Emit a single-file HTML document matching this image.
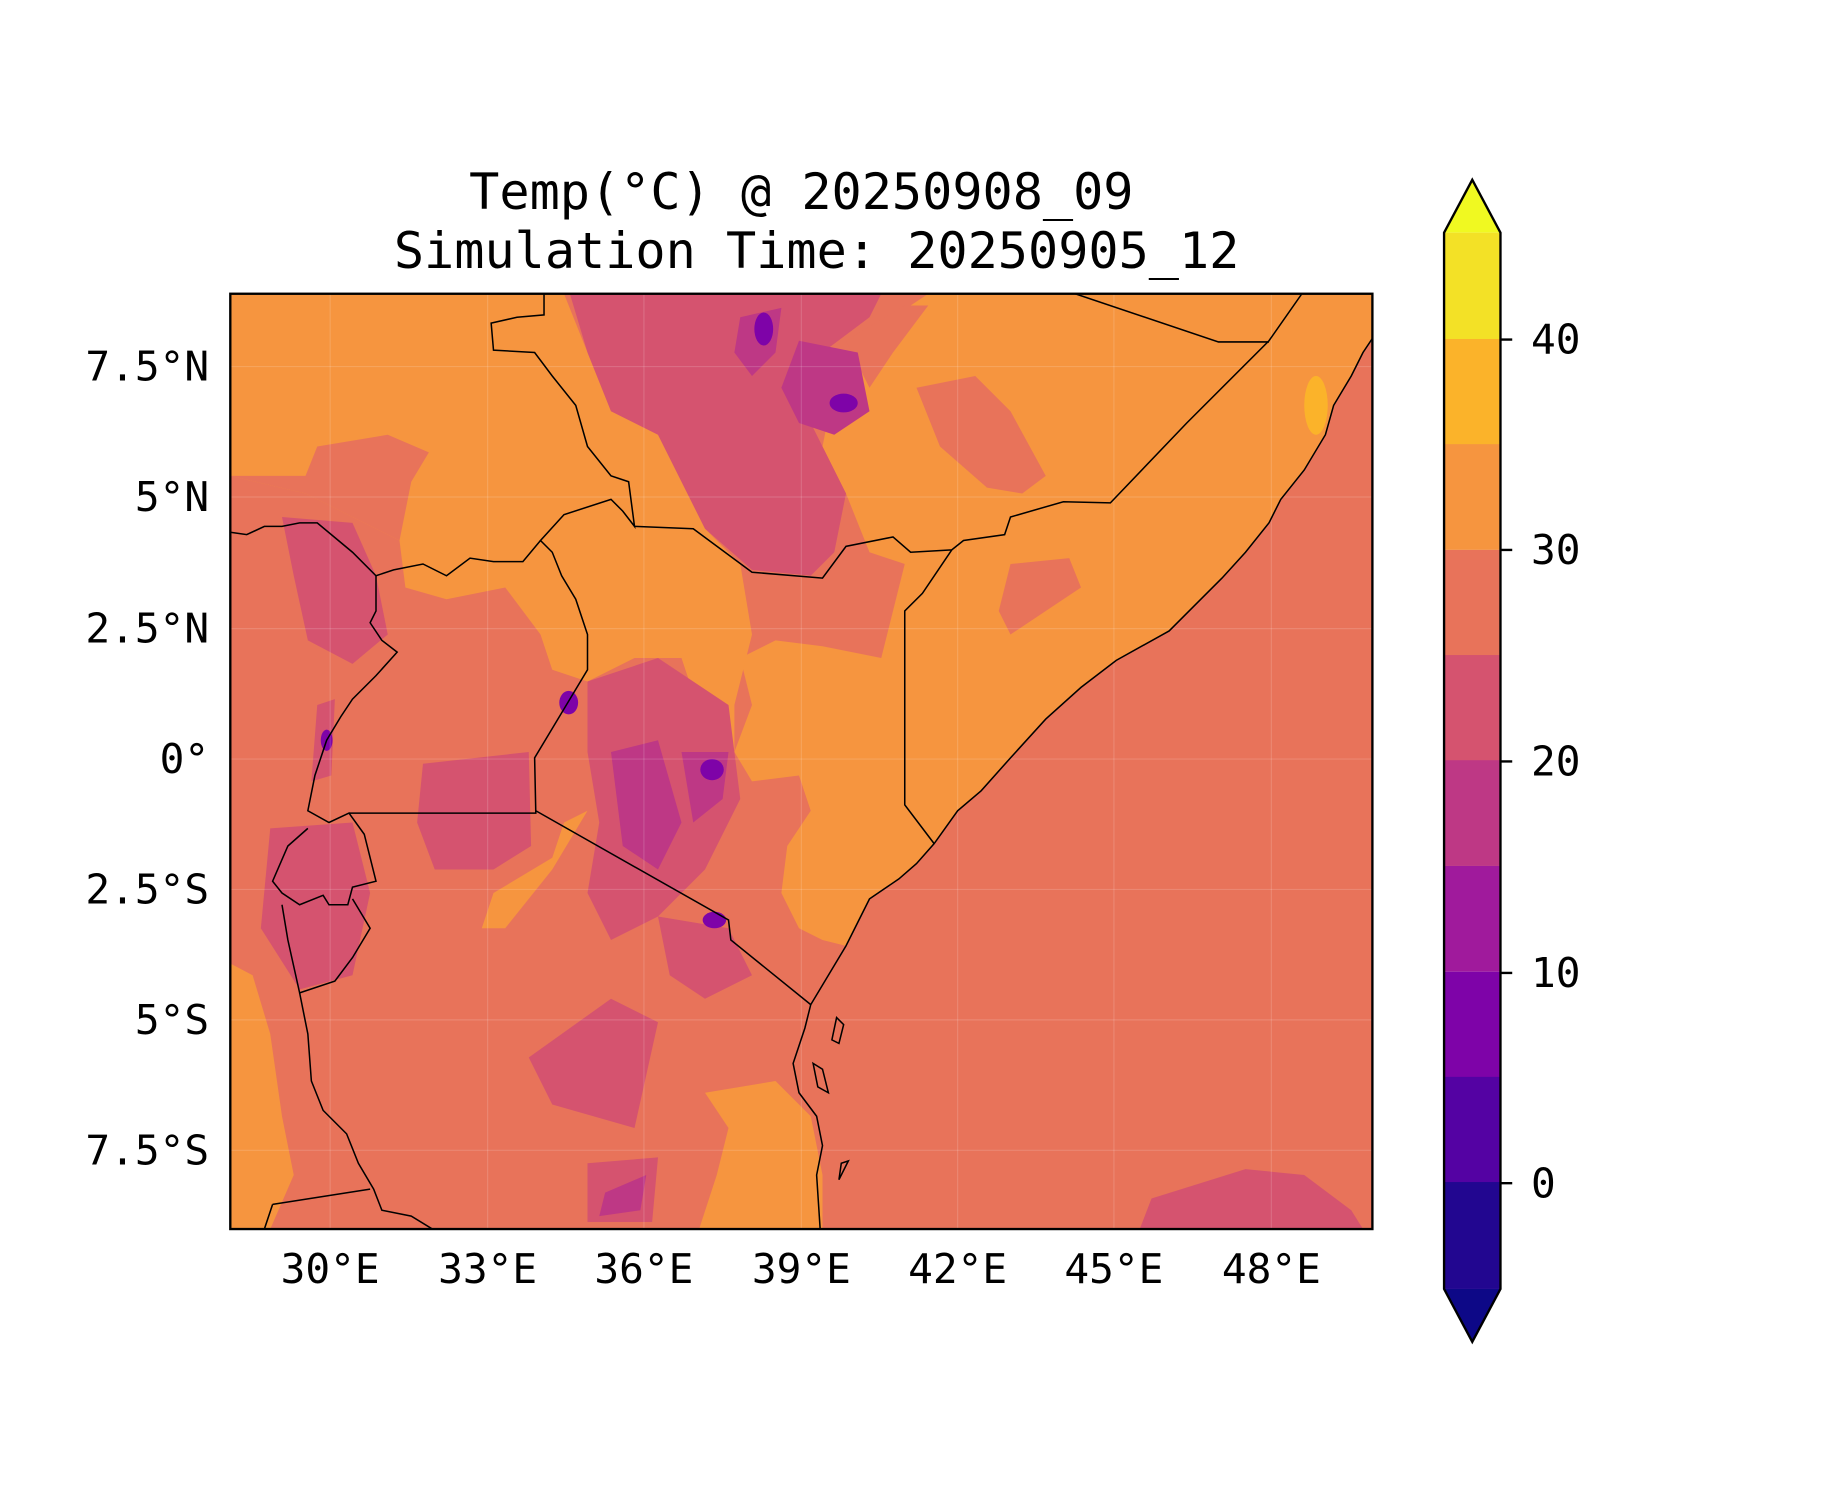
<!DOCTYPE html>
<html><head><meta charset="utf-8"><style>body{margin:0;background:#fff}svg{display:block}</style></head><body>
<svg width="1833" height="1500" viewBox="0 0 1560 1276.6" xmlns="http://www.w3.org/2000/svg" font-family="DejaVu Sans Mono, Liberation Mono, monospace">
<rect width="1560" height="1277" fill="#fff"/>
<text x="682" y="178" font-size="42.7" text-anchor="middle">Temp(°C) @ 20250908_09</text>
<text x="695" y="228" font-size="42.7" text-anchor="middle">Simulation Time: 20250905_12</text>
<defs><clipPath id="c"><rect x="196" y="250" width="972" height="796"/></clipPath></defs>
<g clip-path="url(#c)">
<rect x="196" y="250" width="972" height="796" fill="#e8735a"/>
<path fill="#f6953f" d="M915,250 L1168,250 L1168,288 L1160,300 L1150,320 L1135,345 L1128,370 L1110,400 L1090,425 L1080,445 L1060,470 L1040,492 L1020,512 L995,537 L950,562 L920,585 L890,612 L860,645 L835,673 L815,690 L795,718 L780,735 L765,748 L740,765 L730,785 L720,805 L700,800 L680,790 L665,760 L670,720 L690,690 L680,660 L640,665 L625,640 L640,600 L630,560 L660,545 L700,550 L750,560 L760,520 L770,480 L740,470 L720,420 L700,380 L710,330 L760,270 L790,250 Z"/>
<path fill="#f6953f" d="M196,250 L480,250 L500,300 L520,350 L560,370 L580,410 L600,450 L630,480 L640,540 L625,600 L625,640 L600,620 L580,560 L540,560 L500,580 L470,570 L460,540 L430,500 L380,510 L345,500 L340,460 L300,440 L260,420 L196,405 Z"/>
<path fill="#f6953f" d="M196,820 L215,830 L230,880 L240,950 L250,1000 L230,1046 L196,1046 Z"/>
<path fill="#f6953f" d="M600,930 L660,920 L690,950 L700,1000 L700,1046 L595,1046 L610,1000 L620,960 Z"/>
<path fill="#f6953f" d="M420,760 L470,730 L480,700 L500,690 L470,740 L430,790 L410,790 Z"/>
<path fill="#e8735a" d="M780,330 L830,320 L860,350 L890,405 L870,420 L840,415 L800,380 Z"/>
<path fill="#e8735a" d="M860,480 L910,475 L920,500 L890,520 L860,540 L850,520 Z"/>
<path fill="#e8735a" d="M196,405 L260,405 L270,380 L330,370 L365,385 L350,410 L340,460 L300,440 L260,420 Z"/>
<path fill="#e8735a" d="M720,290 L770,260 L790,260 L760,300 L740,330 Z"/>
<path fill="#d5536f" d="M485,250 L750,250 L740,270 L700,300 L690,360 L720,420 L710,470 L690,490 L640,485 L600,450 L580,410 L560,370 L520,350 L500,300 Z"/>
<path fill="#d5536f" d="M500,580 L560,560 L620,600 L630,680 L600,740 L560,780 L520,800 L500,760 L510,700 L500,640 Z"/>
<path fill="#d5536f" d="M360,650 L450,640 L452,720 L420,740 L370,740 L355,700 Z"/>
<path fill="#d5536f" d="M240,440 L300,445 L320,490 L330,540 L300,565 L262,545 L250,490 Z"/>
<path fill="#d5536f" d="M230,705 L300,700 L315,760 L300,830 L255,842 L222,790 Z"/>
<path fill="#d5536f" d="M450,900 L520,850 L560,870 L540,960 L470,940 Z"/>
<path fill="#d5536f" d="M500,990 L560,985 L555,1040 L500,1040 Z"/>
<path fill="#d5536f" d="M560,780 L620,790 L640,830 L600,850 L570,830 Z"/>
<path fill="#d5536f" d="M970,1046 L980,1020 L1060,995 L1110,1000 L1150,1030 L1160,1046 Z"/>
<path fill="#d5536f" d="M270,600 L285,595 L282,660 L265,665 Z"/>
<path fill="#be3885" d="M630,270 L665,262 L660,300 L640,320 L625,300 Z"/>
<path fill="#be3885" d="M680,290 L730,300 L740,350 L710,370 L680,360 L665,330 Z"/>
<path fill="#be3885" d="M520,640 L560,630 L580,700 L560,740 L530,720 Z"/>
<path fill="#be3885" d="M580,640 L620,640 L615,680 L590,700 Z"/>
<path fill="#be3885" d="M515,1015 L550,1000 L545,1030 L510,1035 Z"/>
<ellipse cx="718" cy="343" rx="12" ry="8" fill="#7e03a8"/>
<ellipse cx="606" cy="655" rx="10" ry="9" fill="#7e03a8"/>
<ellipse cx="484" cy="598" rx="8" ry="10" fill="#7e03a8"/>
<ellipse cx="608" cy="783" rx="10" ry="7" fill="#7e03a8"/>
<ellipse cx="650" cy="280" rx="8" ry="14" fill="#7e03a8"/>
<ellipse cx="278" cy="630" rx="5" ry="9" fill="#7e03a8"/>
<ellipse cx="1120" cy="345" rx="10" ry="25" fill="#fbb32a"/>
<g stroke="#fff" stroke-opacity="0.15" stroke-width="1">
<path d="M281,250V1046M415,250V1046M548,250V1046M682,250V1046M815,250V1046M948,250V1046M1082,250V1046"/>
<path d="M196,312H1168M196,423H1168M196,535H1168M196,646H1168M196,757H1168M196,868H1168M196,979H1168"/>
</g>
<g fill="none" stroke="#000" stroke-width="1.3">
<path d="M1168,288 L1160,300 L1150,320 L1135,345 L1128,370 L1110,400 L1090,425 L1080,445 L1060,470 L1040,492 L1020,512 L995,537 L950,562 L920,585 L890,612 L860,645 L835,673 L815,690 L795,718 L780,735 L765,748 L740,765 L730,785 L720,805 L705,830 L690,855 L685,875 L675,905 L680,930 L695,950 L700,975 L695,1000 L698,1046"/>
<path d="M540,448 L590,450 L640,487 L700,492 L720,465 L760,457 L775,470 L810,468 L820,460 L855,455 L860,440 L905,427 L945,428 L1010,360 L1080,290 L1108,250"/>
<path d="M915,250 L1037,291 L1080,291"/>
<path d="M810,468 L785,505 L770,520 L770,685 L795,718"/>
<path d="M456,690 L620,783 L622,800 L690,855"/>
<path d="M297,692 L456,692 L455,645 L470,620 L485,595 L500,570 L500,540 L490,510 L478,490 L470,470 L460,460 L480,438 L520,425 L530,435 L540,448 L535,410 L520,405 L500,380 L490,345 L470,320 L455,300 L420,298 L418,275 L440,270 L463,268 L463,250"/>
<path d="M460,460 L445,478 L420,478 L400,475 L380,490 L360,480 L335,485 L320,490 L300,470 L270,445 L255,445 L240,448 L225,448 L210,455 L196,453"/>
<path d="M320,490 L320,520 L315,530 L325,545 L338,555 L320,575 L300,595 L290,610 L278,630 L268,660 L262,690 L280,700 L297,692 L310,710 L320,750 L300,755 L296,770 L280,770 L275,762 L255,770 L240,760 L232,750 L245,720 L262,705"/>
<path d="M300,765 L315,790 L300,815 L285,835 L255,845 L245,800 L240,770"/>
<path d="M255,845 L262,880 L265,920 L275,945 L295,965 L305,990 L318,1012 L325,1030 L350,1035 L368,1046"/>
<path d="M232,1025 L315,1012 M232,1025 L225,1046"/>
<path d="M712,866 L718,872 L714,888 L708,885 Z M692,905 L700,910 L705,930 L696,925 Z M716,990 L722,988 L714,1004 Z"/>
</g>
</g>
<rect x="196" y="250" width="972" height="796" fill="none" stroke="#000" stroke-width="2"/>
<g font-size="35" text-anchor="end">
<text x="178" y="324">7.5°N</text><text x="178" y="435">5°N</text><text x="178" y="547">2.5°N</text>
<text x="178" y="658">0°</text><text x="178" y="769">2.5°S</text><text x="178" y="880">5°S</text><text x="178" y="991">7.5°S</text>
</g>
<g font-size="35" text-anchor="middle">
<text x="281" y="1092">30°E</text><text x="415" y="1092">33°E</text><text x="548" y="1092">36°E</text><text x="682" y="1092">39°E</text><text x="815" y="1092">42°E</text><text x="948" y="1092">45°E</text><text x="1082" y="1092">48°E</text>
</g>
<g>
<polygon points="1229,198 1253,153 1277,198" fill="#f0f921"/>
<polygon points="1229,1097 1253,1142 1277,1097" fill="#0d0887"/>
<rect x="1229" y="198" width="48" height="91" fill="#f3e126"/>
<rect x="1229" y="288.5" width="48" height="90" fill="#fbb32a"/>
<rect x="1229" y="378" width="48" height="90" fill="#f6953f"/>
<rect x="1229" y="468" width="48" height="90" fill="#e8735a"/>
<rect x="1229" y="557.5" width="48" height="90" fill="#d5536f"/>
<rect x="1229" y="647" width="48" height="90" fill="#be3885"/>
<rect x="1229" y="737" width="48" height="90" fill="#a01a9c"/>
<rect x="1229" y="827" width="48" height="90" fill="#7e03a8"/>
<rect x="1229" y="916.5" width="48" height="90" fill="#5402a3"/>
<rect x="1229" y="1006" width="48" height="91" fill="#220690"/>
<polygon points="1229,198 1253,153 1277,198 1277,1097 1253,1142 1229,1097" fill="none" stroke="#000" stroke-width="2"/>
<g stroke="#000" stroke-width="2"><path d="M1277,289h10M1277,468h10M1277,648h10M1277,828h10M1277,1007h10"/></g>
<g font-size="35"><text x="1303" y="301">40</text><text x="1303" y="480">30</text><text x="1303" y="660">20</text><text x="1303" y="840">10</text><text x="1303" y="1019">0</text></g>
</g>
</svg>
</body></html>
